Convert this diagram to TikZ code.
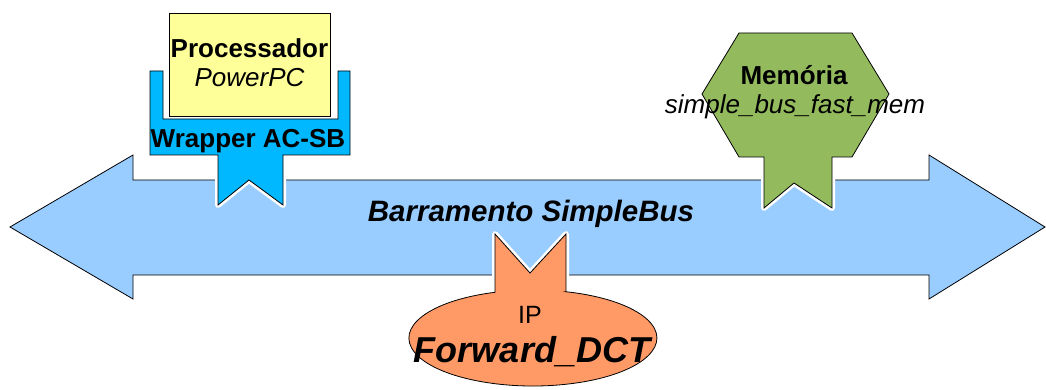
\documentclass[tikz,border=0pt]{standalone}
\usepackage{fontspec}
\setmainfont{Liberation Sans}
\definecolor{busblue}{HTML}{99CCFF}
\definecolor{wrapblue}{HTML}{00B8FF}
\definecolor{procyellow}{HTML}{FFFF99}
\definecolor{memgreen}{HTML}{93BB5E}
\definecolor{iporange}{HTML}{FF9966}
\begin{document}
\begin{tikzpicture}[x=1pt,y=1pt,
  outl/.style={draw=black,line width=0.8pt,line join=miter},
  halo/.style={draw=white,line width=6pt,line join=round},
  lbl/.style={inner sep=0pt,anchor=base,text=black}]
\useasboundingbox (0,0) rectangle (1046,-390);
% bus
\path[outl,fill=busblue] (10,-227) -- (133,-155) -- (133,-180) -- (929,-180) -- (929,-155)
  -- (1045,-227) -- (929,-299) -- (929,-275) -- (133,-275) -- (133,-299) -- cycle;
\node[lbl] (bus) at (531,-222) {\fontsize{29.5}{33}\selectfont\bfseries\itshape Barramento SimpleBus};
% wrapper
\def\wrapshape{(150,-71) -- (163,-71) -- (163,-119) -- (338,-119) -- (338,-71) -- (350,-71)
  -- (350,-155) -- (283,-155) -- (283,-205) -- (249,-180) -- (218,-205) -- (218,-155) -- (150,-155) -- cycle}
\path[halo] \wrapshape;
\path[outl,fill=wrapblue] \wrapshape;
\node[lbl] (wrap) at (248,-148) {\fontsize{26}{30}\selectfont\bfseries Wrapper AC-SB};
% processor
\path[outl,fill=procyellow] (169,-13) rectangle (330,-116);
\node[lbl] (proc) at (249.5,-58) {\fontsize{26}{30}\selectfont\bfseries Processador};
\node[lbl] (ppc) at (249.5,-87) {\fontsize{26}{30}\selectfont\itshape PowerPC};
% memory
\def\memshape{(739,-33) -- (852,-33) -- (889,-94) -- (852,-157) -- (832,-157) -- (832,-208)
  -- (794,-183) -- (764,-208) -- (764,-157) -- (739,-157) -- (702,-94) -- cycle}
\path[halo] \memshape;
\path[outl,fill=memgreen] \memshape;
\node[lbl] (mem) at (794,-85) {\fontsize{26}{30}\selectfont\bfseries Memória};
\node[lbl] (memname) at (795,-114) {\fontsize{26}{30}\selectfont\itshape simple\_bus\_fast\_mem};
% IP
\def\ipshape{(566,-291.7) -- (566,-234) -- (530,-273) -- (495,-234) -- (495,-292.3)
  arc[start angle=107.8,end angle=434.6,x radius=124pt,y radius=48pt] -- cycle}
\path[halo] \ipshape;
\path[outl,fill=iporange] \ipshape;
\node[lbl] (ip) at (530,-323) {\fontsize{25}{29}\selectfont IP};
\node[lbl] (dct) at (532,-362) {\fontsize{36}{40}\selectfont\bfseries\itshape Forward\_DCT};
\end{tikzpicture}
\end{document}
